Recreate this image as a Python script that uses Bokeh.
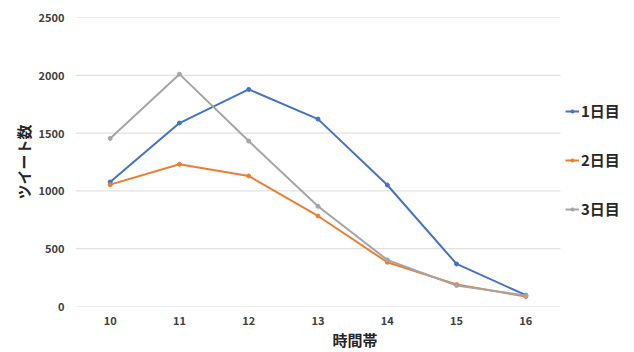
from bokeh.plotting import figure
from bokeh.models import Range1d, FixedTicker, Legend, LegendItem
from bokeh.embed import file_html
from bokeh.resources import INLINE

hours = [10, 11, 12, 13, 14, 15, 16]
day1 = [1077, 1587, 1878, 1621, 1051, 368, 98]
day2 = [1054, 1230, 1129, 783, 383, 190, 86]
day3 = [1454, 2010, 1431, 867, 403, 181, 95]
series_names = ["1日目", "2日目", "3日目"]
colors = ["#4472C4", "#ED7D31", "#A5A5A5"]
y_ticks = [0, 500, 1000, 1500, 2000, 2500]

FONT = "Noto Sans CJK JP"
X_START, X_END = 9.5, 16.5
# plot area spans 485 px for 7 units; extend range to the right edge for the legend
X_VIEW_END = X_START + (634 - 75) * (X_END - X_START) / 485

p = figure(width=634, height=352, output_backend="svg", toolbar_location=None,
           x_range=Range1d(X_START, X_VIEW_END), y_range=Range1d(0, 2500),
           min_border_left=75, min_border_right=0, min_border_top=17, min_border_bottom=46)
p.outline_line_color = None
p.background_fill_color = "white"
p.border_fill_color = "white"
p.xgrid.grid_line_color = None
p.ygrid.grid_line_color = None

# horizontal gridlines limited to the plot area
p.segment(x0=[X_START] * len(y_ticks), x1=[X_END] * len(y_ticks), y0=y_ticks, y1=y_ticks,
          line_color="#D9D9D9", line_width=1)

items = []
for name, vals, c in zip(series_names, [day1, day2, day3], colors):
    r1 = p.line(hours, vals, line_color=c, line_width=2)
    r2 = p.scatter(hours, vals, marker="circle", size=4, fill_color=c, line_color=c)
    items.append(LegendItem(label=name, renderers=[r1, r2]))

for ax in (p.xaxis[0], p.yaxis[0]):
    ax.axis_line_color = None
    ax.major_tick_line_color = None
    ax.minor_tick_line_color = None
    ax.major_label_text_font = FONT
    ax.major_label_text_font_style = "bold"
    ax.major_label_text_font_size = "11px"
    ax.major_label_text_color = "#404040"
    ax.axis_label_text_font = FONT
    ax.axis_label_text_font_style = "bold"
    ax.axis_label_text_font_size = "15px"
    ax.axis_label_text_color = "#262626"

p.xaxis.ticker = FixedTicker(ticks=hours)
p.yaxis.ticker = FixedTicker(ticks=y_ticks)
p.xaxis.axis_label = "時間帯"
p.yaxis.axis_label = "ツイート数"
p.xaxis.major_label_standoff = 3
p.xaxis.axis_label_standoff = 1
p.yaxis.major_label_standoff = 5
p.yaxis.axis_label_standoff = 2

legend = Legend(items=items, location=(490, 87), orientation="vertical",
                margin=0, padding=0, spacing=28, glyph_width=14, glyph_height=8,
                label_height=20, label_standoff=2, border_line_color=None,
                background_fill_alpha=0,
                label_text_font=FONT, label_text_font_style="bold",
                label_text_font_size="15px", label_text_color="#262626")
p.add_layout(legend)

open("out.html", "w").write(file_html(p, INLINE))
